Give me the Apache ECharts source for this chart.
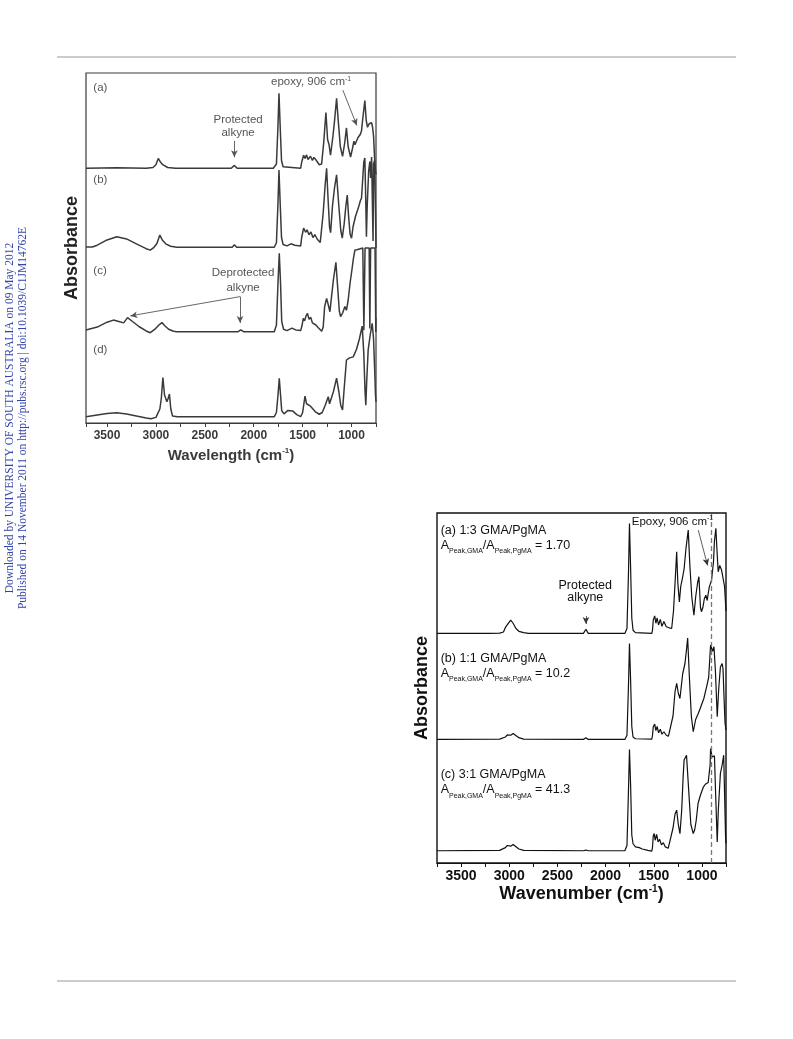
<!DOCTYPE html>
<html><head><meta charset="utf-8">
<script src="https://cdn.jsdelivr.net/npm/echarts@6/dist/echarts.min.js"></script>
<style>html,body{margin:0;padding:0;background:#fff}#c{width:793px;height:1039px}</style>
</head><body><div id="c"></div>
<script>
// ---------- DATA ----------
// Top figure: wavenumber (cm-1) vs absorbance (stacked, arbitrary units 0-100)
const topA = [[3715,72.8],[3400,72.9],[3100,72.8],[3030,73.0],[3000,73.8],[2976,75.6],[2955,74.6],[2930,73.8],[2880,73.0],[2800,72.8],[2230,72.8],[2198,73.6],[2170,72.8],[1800,72.8],[1768,74],[1752,85],[1742,94.2],[1730,85],[1716,75],[1700,73.2],[1680,72.8],[1520,72.8],[1510,74.5],[1490,76.5],[1475,75.6],[1460,76.6],[1445,75.3],[1420,76.2],[1400,75.0],[1385,75.9],[1365,75.2],[1330,73.8],[1306,74.0],[1285,80],[1262,88.7],[1245,81],[1230,79.5],[1215,76.5],[1204,76.8],[1190,82],[1175,86],[1153,92.8],[1135,86],[1115,79],[1092,76.2],[1070,80],[1052,84.3],[1035,79],[1010,76],[990,78.5],[976,80.5],[965,79.5],[950,80.5],[935,81.5],[922,81],[910,82.5],[898,83.5],[885,87],[864,92.1],[850,86.5],[837,84.5],[820,85.5],[805,85],[795,85.8],[785,84.5],[775,82],[765,76],[755,72],[750,71]];
const topB = [[3715,50.3],[3650,50.3],[3600,50.8],[3500,52.3],[3400,53.2],[3300,52.6],[3200,51.2],[3100,49.8],[3058,49.4],[3020,50.2],[2990,51.3],[2960,53.7],[2935,52.3],[2900,51.2],[2850,50.5],[2786,50.2],[2220,50.2],[2198,50.9],[2175,50.2],[1790,50.2],[1768,51.5],[1752,63],[1742,72.3],[1730,63],[1716,53],[1700,51],[1660,50.6],[1620,51.2],[1580,50.8],[1520,50.6],[1510,53],[1490,55.7],[1470,54.5],[1455,55.2],[1435,53.8],[1415,54.6],[1395,53.0],[1375,53.8],[1350,52.5],[1320,51.6],[1290,60],[1270,68],[1255,72.8],[1240,64],[1225,56],[1214,54.4],[1195,62],[1175,67],[1153,70.9],[1130,62],[1110,55],[1095,52.8],[1075,57],[1058,62],[1044,65.1],[1030,59],[1015,54],[1000,52.8],[985,56],[960,59],[943,60.4],[925,62],[910,63.5],[898,64.3],[885,70],[875,74.5],[864,75.7],[855,64],[848,53.2],[840,62],[825,72],[813,74.7],[805,70],[795,76],[785,76],[780,52],[775,74],[765,75],[755,60],[750,50]];
const topC = [[3715,26.6],[3600,27.4],[3500,28.8],[3435,29.4],[3380,29.0],[3330,28.6],[3290,30.1],[3240,29.0],[3170,27.5],[3100,26.3],[3058,25.8],[3010,26.8],[2970,28.0],[2938,28.7],[2910,27.8],[2870,26.8],[2820,26.2],[2786,26.1],[2160,26.1],[2132,26.6],[2105,26.1],[1790,26.1],[1768,28],[1752,40],[1739,48.5],[1726,40],[1714,29],[1695,26.8],[1660,26.4],[1610,27.1],[1570,26.6],[1520,26.4],[1505,28],[1494,29.9],[1480,29.2],[1465,30.6],[1450,31.3],[1435,29.6],[1418,30.2],[1400,28.6],[1385,29.0],[1365,28.0],[1340,27.2],[1305,26.2],[1290,27.4],[1275,33.3],[1255,35.6],[1240,34],[1221,31.8],[1205,36],[1185,41],[1160,45.9],[1140,38],[1125,32],[1112,30.4],[1090,31.5],[1068,33.3],[1052,32.2],[1035,35],[1015,40],[995,44],[983,46.6],[966,49.4],[945,49.5],[935,50],[885,50],[874,26.5],[862,50],[820,50],[813,27],[805,50],[760,50],[752,26],[750,30]];
const topD = [[3715,1.8],[3600,2.3],[3500,2.7],[3400,2.9],[3300,2.6],[3200,2.0],[3100,1.4],[3050,1.2],[3000,1.6],[2960,4],[2945,7],[2929,13.0],[2912,8],[2888,6.1],[2875,7],[2862,8.3],[2848,4],[2830,2.0],[2780,1.8],[1790,1.8],[1768,3],[1752,8],[1739,12.8],[1726,8],[1714,3.5],[1690,2.6],[1650,3.6],[1630,4.0],[1600,3.4],[1560,2.4],[1520,1.8],[1500,3],[1476,7.7],[1460,5.5],[1440,6.0],[1420,4.8],[1400,4.5],[1370,3.2],[1330,2.5],[1300,3.0],[1270,5],[1238,7.5],[1225,5.5],[1210,6],[1185,9],[1153,12.8],[1130,9],[1110,5],[1092,3.7],[1075,10],[1052,18.0],[1020,18.6],[983,18.9],[950,21],[920,24],[891,27.7],[875,20],[862,9],[854,5.1],[845,12],[830,20.9],[810,25],[789,28.5],[775,24],[762,14],[755,8],[750,6]];

// Bottom figure: GMA/PgMA ratios
const botA = [[3750,65.6],[3200,65.6],[3100,65.7],[3060,66.0],[3040,67.3],[3020,67.6],[2985,69.4],[2960,68.5],[2930,67.0],[2900,66.2],[2850,65.8],[2800,65.6],[2230,65.6],[2204,66.8],[2180,65.6],[1800,65.6],[1778,67],[1763,82],[1752,97.0],[1740,84],[1728,70],[1715,66.5],[1690,65.8],[1520,65.6],[1513,66.5],[1505,69.4],[1490,70.6],[1478,68.5],[1465,70.0],[1450,68.0],[1432,69.6],[1415,67.6],[1395,69.0],[1370,67.5],[1340,67.2],[1314,67.0],[1295,72],[1275,82],[1262,88.9],[1250,80],[1234,74.6],[1220,79],[1200,81.7],[1185,84],[1165,90],[1142,95.1],[1125,85],[1105,76],[1083,70.8],[1065,76],[1045,80],[1031,81.8],[1015,73],[1005,71.8],[990,73],[975,75.5],[959,76.5],[945,75],[935,77],[923,78.9],[910,79],[900,80.8],[880,86],[870,92],[855,95.6],[845,90],[831,83.2],[815,85],[796,83.7],[780,84],[765,79],[750,72]];
const botB = [[3750,35.3],[3100,35.4],[3040,36.0],[3020,36.6],[3000,36.9],[2985,36.5],[2960,37.0],[2940,36.6],[2900,35.8],[2850,35.4],[2230,35.3],[2204,35.8],[2180,35.3],[1800,35.3],[1778,36.5],[1763,50],[1752,62.7],[1740,52],[1728,39],[1715,36],[1690,35.5],[1520,35.4],[1513,36.5],[1505,38.9],[1490,39.7],[1478,37.8],[1465,39.0],[1450,37.2],[1432,38.2],[1415,36.8],[1395,37.5],[1370,36.5],[1348,36.2],[1330,36.5],[1300,42],[1279,49],[1262,51.3],[1245,48.5],[1228,47.0],[1200,54],[1176,57.0],[1160,61],[1148,64.3],[1130,53],[1110,42],[1090,37.5],[1065,41],[1038,42.7],[1020,44],[1000,44.5],[980,47],[951,50.4],[930,53],[910,62.3],[890,60.5],[875,61.8],[860,55],[841,41.8],[825,50],[808,56.0],[790,57],[781,55.5],[770,47],[760,40],[750,38]];
const botC = [[3750,3.5],[3100,3.6],[3040,4.4],[3020,5.0],[3005,5.2],[2985,4.8],[2960,5.3],[2940,5.0],[2900,4.0],[2850,3.6],[2230,3.5],[2204,3.7],[2180,3.5],[1800,3.5],[1778,5],[1763,20],[1752,32.4],[1740,22],[1728,8],[1715,5.5],[1690,4.6],[1650,4.4],[1620,4.0],[1560,3.6],[1520,3.4],[1513,4.5],[1505,7.8],[1495,8.4],[1485,6.5],[1470,8.2],[1455,6.0],[1440,6.8],[1420,5.2],[1400,5.8],[1380,4.6],[1350,4.2],[1330,4.6],[1300,10],[1279,14],[1262,15.1],[1245,11],[1228,8.4],[1210,15],[1195,24.6],[1185,29.4],[1160,30.8],[1140,22],[1115,11],[1090,8.4],[1075,9.5],[1060,12],[1040,17.0],[1020,19],[985,21.7],[965,22.5],[935,23],[915,28],[910,32.7],[895,30.3],[870,30.6],[858,20],[841,6.0],[830,15],[808,25.6],[790,28],[774,30.8],[765,20],[755,8],[750,5.6]];

const epoxyLine = 906;
const topXName = 'Wavelength';
const botXName = 'Wavenumber';
const yName = 'Absorbance';
const botLabels = [
  ['(a) 1:3 GMA/PgMA', '1.70'],
  ['(b) 1:1 GMA/PgMA', '10.2'],
  ['(c) 3:1 GMA/PgMA', '41.3']
];
const topLabels = ['(a)', '(b)', '(c)', '(d)'];

// ---------- CHART ----------
const FF = '"Liberation Sans", Arial, sans-serif';
const chart = echarts.init(document.getElementById('c'), null, {renderer: 'canvas'});

function xAxisCfg(grid, max, name, col, fs, nameFs, gap, nameGap) {
  return {
    gridIndex: grid, type: 'value', inverse: true, min: 750, max: max, interval: 250,
    axisLine: {show: true, lineStyle: {color: col, width: 1.2}},
    axisTick: {show: true, inside: false, length: 4, lineStyle: {color: col, width: 1}},
    axisLabel: {formatter: v => (v % 500 === 0 ? String(v) : ''), fontSize: fs, fontWeight: 'bold',
      color: col, margin: gap, fontFamily: FF},
    splitLine: {show: false},
    name: '{n|' + name + ' (cm}{s|-1}{n|)}', nameLocation: 'middle', nameGap: nameGap,
    nameTextStyle: {rich: {
      n: {fontSize: nameFs, fontWeight: 'bold', color: col, fontFamily: FF, lineHeight: nameFs + 2},
      s: {fontSize: Math.round(nameFs * 0.55), fontWeight: 'bold', color: col, fontFamily: FF, verticalAlign: 'top', lineHeight: nameFs + 2}
    }}
  };
}
function yAxisCfg(grid, col, fs, gap) {
  return {
    gridIndex: grid, type: 'value', min: 0, max: 100,
    axisLine: {show: false}, axisTick: {show: false}, axisLabel: {show: false}, splitLine: {show: false},
    name: yName, nameLocation: 'middle', nameGap: gap, nameRotate: 90,
    nameTextStyle: {fontSize: fs, fontWeight: 'bold', color: col, fontFamily: FF}
  };
}
function line(data, xi, col, w, extra) {
  return Object.assign({type: 'line', data: data, xAxisIndex: xi, yAxisIndex: xi, showSymbol: false,
    symbol: 'none', lineStyle: {color: col, width: w}, clip: true, silent: true, z: 3}, extra || {});
}

const topCol = '#3a3a3a', botCol = '#111';
const option = {
  animation: false,
  backgroundColor: '#fff',
  grid: [
    {left: 86, top: 73, width: 290, height: 350, show: true, borderColor: topCol, borderWidth: 1.2, backgroundColor: 'transparent'},
    {left: 437, top: 513, width: 289, height: 350, show: true, borderColor: botCol, borderWidth: 1.4, backgroundColor: 'transparent'}
  ],
  xAxis: [
    xAxisCfg(0, 3715, topXName, topCol, 12, 15, 7, 24),
    xAxisCfg(1, 3750, botXName, botCol, 14, 18, 6, 15)
  ],
  yAxis: [yAxisCfg(0, '#222', 18, 5), yAxisCfg(1, botCol, 18, 6)],
  series: [
    line(topA, 0, topCol, 1.5, {markLine: {silent: true, symbol: ['none', 'arrow'], symbolSize: [5, 7],
      lineStyle: {color: '#555', width: 0.9, type: 'solid'}, label: {show: false},
      data: [
        [{coord: [2198, 80.6]}, {coord: [2198, 75.9]}],
        [{coord: [1089, 95.1]}, {coord: [946, 85.0]}],
        [{coord: [2140, 36.1]}, {coord: [2140, 28.6]}],
        [{coord: [2140, 36.1]}, {coord: [3262, 30.6]}]
      ]}}),
    line(topB, 0, topCol, 1.5),
    line(topC, 0, topCol, 1.5),
    line(topD, 0, topCol, 1.5),
    line(botA, 1, botCol, 1.2, {markLine: {silent: true, symbol: ['none', 'arrow'], symbolSize: [5, 7],
      lineStyle: {color: '#333', width: 0.8, type: 'solid'}, label: {show: false},
      data: [
        [{coord: [2204, 70.6]}, {coord: [2204, 68.3]}],
        [{coord: [1038, 95.1]}, {coord: [941, 85.0]}]
      ]}}),
    line(botB, 1, botCol, 1.2, {markLine: {silent: true, symbol: ['none', 'none'],
      lineStyle: {color: '#777', width: 1.3, type: [5, 3]}, label: {show: false},
      data: [{xAxis: epoxyLine}]}}),
    line(botC, 1, botCol, 1.2)
  ]
};
chart.setOption(option);

// ---------- ANNOTATIONS (placed through the axes' scales) ----------
function px(g, x, y) { return chart.convertToPixel({gridIndex: g}, [x, y]); }
function txt(g, x, y, text, opts) {
  const p = px(g, x, y);
  return {type: 'text', x: p[0], y: p[1], silent: true, z: 10,
    style: Object.assign({text: text, fill: '#555', font: '11px ' + FF, align: 'left', verticalAlign: 'middle'}, opts || {})};
}
const gfx = [];
// page furniture
gfx.push({type: 'line', shape: {x1: 57, y1: 57, x2: 736, y2: 57}, style: {stroke: '#999', lineWidth: 1}, silent: true});
gfx.push({type: 'line', shape: {x1: 57, y1: 981, x2: 736, y2: 981}, style: {stroke: '#999', lineWidth: 1}, silent: true});
gfx.push({type: 'text', x: 10, y: 418, rotation: Math.PI / 2, silent: true,
  style: {text: 'Downloaded by UNIVERSITY OF SOUTH AUSTRALIA on 09 May 2012', fill: '#3344aa',
    font: '11.5px "Liberation Serif", "Times New Roman", serif', align: 'center', verticalAlign: 'middle'}});
gfx.push({type: 'text', x: 23, y: 418, rotation: Math.PI / 2, silent: true,
  style: {text: 'Published on 14 November 2011 on http://pubs.rsc.org | doi:10.1039/C1JM14762E', fill: '#3344aa',
    font: '11.5px "Liberation Serif", "Times New Roman", serif', align: 'center', verticalAlign: 'middle'}});

// top figure labels
const topLabelY = [95.7, 69.4, 43.4, 20.9];
topLabels.forEach((t, i) => gfx.push(txt(0, 3640, topLabelY[i], t, {font: '11.5px ' + FF})));
gfx.push(txt(0, 2160, 86.6, 'Protected', {align: 'center', font: '11.5px ' + FF}));
gfx.push(txt(0, 2160, 82.9, 'alkyne', {align: 'center', font: '11.5px ' + FF}));
gfx.push(txt(0, 2109, 42.9, 'Deprotected', {align: 'center', font: '11.5px ' + FF}));
gfx.push(txt(0, 2109, 38.7, 'alkyne', {align: 'center', font: '11.5px ' + FF}));
gfx.push(txt(0, 1823, 97.4, '{n|epoxy, 906 cm}{s|-1}', {rich: {
  n: {fontSize: 11.5, fontFamily: FF, fill: '#555', lineHeight: 14},
  s: {fontSize: 7, fontFamily: FF, fill: '#555', verticalAlign: 'top', lineHeight: 14}}}));

// bottom figure labels
const botLabelY = [[95.1, 91.2], [58.5, 54.6], [25.4, 21.3]];
botLabels.forEach((t, i) => {
  gfx.push(txt(1, 3712, botLabelY[i][0], t[0], {fill: '#111', font: '12.5px ' + FF}));
  gfx.push(txt(1, 3712, botLabelY[i][1], '{n|A}{s|Peak,GMA}{n|/A}{s|Peak,PgMA}{n| = ' + t[1] + '}', {rich: {
    n: {fontSize: 12.5, fontFamily: FF, fill: '#111', lineHeight: 16, verticalAlign: 'bottom'},
    s: {fontSize: 7, fontFamily: FF, fill: '#111', lineHeight: 16, verticalAlign: 'bottom', padding: [0, 0, -3, 0]}}}));
});
gfx.push(txt(1, 2211, 79.4, 'Protected', {align: 'center', fill: '#111', font: '12.5px ' + FF}));
gfx.push(txt(1, 2211, 75.8, 'alkyne', {align: 'center', fill: '#111', font: '12.5px ' + FF}));
gfx.push(txt(1, 1728, 97.5, '{n|Epoxy, 906 cm}{s|-1}', {rich: {
  n: {fontSize: 11.5, fontFamily: FF, fill: '#111', lineHeight: 14},
  s: {fontSize: 7, fontFamily: FF, fill: '#111', verticalAlign: 'top', lineHeight: 14}}}));

chart.setOption({graphic: gfx});
</script>
</body></html>
